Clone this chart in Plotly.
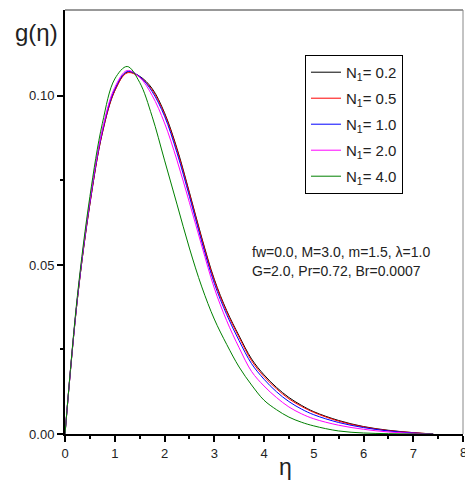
import plotly.graph_objects as go

eta = [0, 0.25, 0.5, 0.75, 1.0, 1.25, 1.5, 1.75, 2.0, 2.25, 2.5, 2.75, 3.0, 3.25, 3.5, 3.75,
       4.0, 4.25, 4.5, 4.75, 5.0, 5.5, 6.0, 6.5, 7.0, 7.4]

g_n02 = [0, 0.040, 0.068, 0.089, 0.1015, 0.1070, 0.1058, 0.1022, 0.0950, 0.0845, 0.0715, 0.0580, 0.0458,
         0.0365, 0.0290, 0.0222, 0.0175, 0.0138, 0.0108, 0.0085, 0.0066, 0.0040, 0.0022, 0.0011, 0.0004, 0.0]
g_n05 = [0, 0.040, 0.068, 0.089, 0.1015, 0.1068, 0.1056, 0.1018, 0.0946, 0.0840, 0.0711, 0.0576, 0.0454,
         0.0361, 0.0286, 0.0217, 0.0170, 0.0134, 0.0104, 0.0082, 0.0064, 0.0038, 0.0021, 0.0010, 0.0004, 0.0]
g_n10 = [0, 0.0402, 0.0685, 0.0895, 0.1020, 0.1072, 0.1057, 0.1013, 0.0940, 0.0832, 0.0703, 0.0568, 0.0446,
         0.0353, 0.0276, 0.0208, 0.0162, 0.0125, 0.0096, 0.0074, 0.0057, 0.0034, 0.0019, 0.0009, 0.0003, 0.0]
g_n20 = [0, 0.0405, 0.0690, 0.0900, 0.1025, 0.1075, 0.1055, 0.1002, 0.0920, 0.0810, 0.0685, 0.0556, 0.0432,
         0.0335, 0.0255, 0.0185, 0.0142, 0.0108, 0.0080, 0.0060, 0.0045, 0.0026, 0.0014, 0.0006, 0.0002, 0.0]
g_n40 = [0, 0.0410, 0.0702, 0.0918, 0.1050, 0.1087, 0.1040, 0.0940, 0.0810, 0.0680, 0.0550, 0.0435, 0.0340,
         0.0265, 0.0198, 0.0145, 0.0100, 0.0072, 0.0050, 0.0035, 0.0024, 0.0009, 0.0003, 0.0001, 0.0, 0.0]

series = [
    ("N<sub>1</sub>= 0.2", g_n02, "#000000"),
    ("N<sub>1</sub>= 0.5", g_n05, "#FF0000"),
    ("N<sub>1</sub>= 1.0", g_n10, "#0000FF"),
    ("N<sub>1</sub>= 2.0", g_n20, "#FF00FF"),
    ("N<sub>1</sub>= 4.0", g_n40, "#008000"),
]

x_ticks = [0, 1, 2, 3, 4, 5, 6, 7, 8]
y_ticks = [0, 0.05, 0.10]
y_ticktext = ["0.00", "0.05", "0.10"]

fig = go.Figure()
for i, (name, ys, col) in enumerate(series):
    fig.add_trace(go.Scatter(x=eta, y=ys, mode="lines", name=name, legendgroup=f"g{i}",
                             line=dict(color=col, width=1, shape="spline", smoothing=1.0)))

font_family = "Liberation Sans, Arial, sans-serif"
tc = "#222222"

fig.update_layout(
    width=465, height=481,
    margin=dict(l=65, r=2, t=10, b=47),
    paper_bgcolor="white", plot_bgcolor="white",
    font=dict(family=font_family, color=tc, size=13),
    showlegend=True,
    legend=dict(x=0.603, y=0.894, xanchor="left", yanchor="top",
                bordercolor="#000000", borderwidth=1, bgcolor="white",
                font=dict(size=15, color=tc), itemwidth=30,
                tracegroupgap=3.5),
    xaxis=dict(range=[0, 8], tickvals=x_ticks,
               ticks="outside", ticklen=6, tickwidth=1.5, tickcolor="black",
               showgrid=False, zeroline=False,
               showline=True, linecolor="black", linewidth=2,
               minor=dict(tickvals=[0.5, 1.5, 2.5, 3.5, 4.5, 5.5, 6.5, 7.5],
                          ticks="outside", ticklen=3, tickcolor="black", tickwidth=1.5),
               tickfont=dict(size=13, color=tc)),
    yaxis=dict(range=[0, 0.1254], tickvals=y_ticks, ticktext=y_ticktext,
               ticks="outside", ticklen=6, tickwidth=1.5, tickcolor="black",
               showgrid=False, zeroline=False,
               showline=True, linecolor="black", linewidth=2,
               minor=dict(tickvals=[0.025, 0.075], ticks="outside", ticklen=3,
                          tickcolor="black", tickwidth=1.5),
               tickfont=dict(size=13, color=tc)),
    shapes=[
        dict(type="line", xref="paper", yref="paper", x0=0, x1=1, y0=1, y1=1,
             line=dict(color="#333333", width=1)),
        dict(type="line", xref="paper", yref="paper", x0=1, x1=1, y0=0, y1=1,
             line=dict(color="#888888", width=1)),
    ],
    annotations=[
        dict(text="g(η)", xref="paper", yref="paper", x=-0.13, y=0.946,
             xanchor="left", yanchor="middle", showarrow=False,
             font=dict(size=24, color=tc)),
        dict(text="η", xref="paper", yref="paper", x=0.553, y=-0.078,
             xanchor="center", yanchor="middle", showarrow=False,
             font=dict(size=23, color=tc)),
        dict(text="8", xref="x", yref="paper", x=8, y=-0.022,
             xanchor="center", yanchor="top", showarrow=False,
             font=dict(size=13, color=tc)),
        dict(text="fw=0.0, M=3.0, m=1.5, λ=1.0", xref="paper", yref="paper",
             x=0.465, y=(434 - 252) / 424, xanchor="left", yanchor="middle",
             showarrow=False, font=dict(size=14, color=tc)),
        dict(text="G=2.0, Pr=0.72, Br=0.0007", xref="paper", yref="paper",
             x=0.465, y=(434 - 271) / 424, xanchor="left", yanchor="middle",
             showarrow=False, font=dict(size=14, color=tc)),
    ],
)

fig.write_html("out.html")
